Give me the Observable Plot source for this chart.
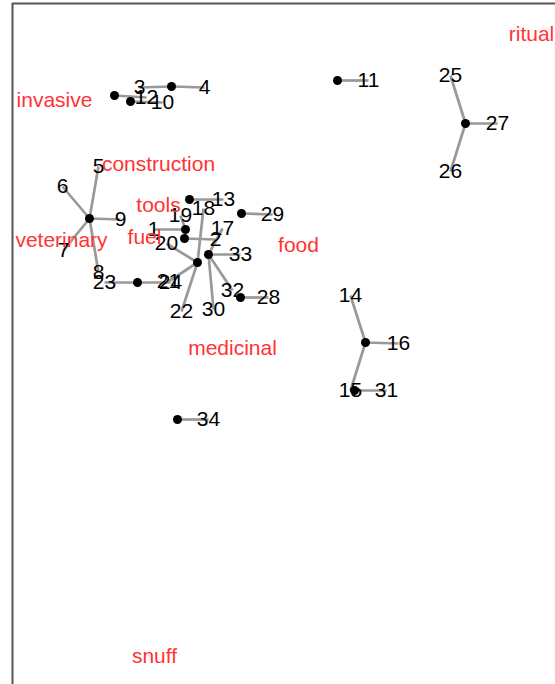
<!DOCTYPE html>
<html>
<head>
<meta charset="utf-8">
<script src="https://cdn.jsdelivr.net/npm/d3@7"></script>
<script src="https://cdn.jsdelivr.net/npm/@observablehq/plot@0.6"></script>
<style>
  html, body { margin: 0; padding: 0; background: #fff; }
  #chart svg { display: block; }
</style>
</head>
<body>
<div id="chart"></div>
<script>
// Group centroids (ordination scores)
const centroidNames = ["a","b","c","g11","g27","g9","g13","g1","g20","H","g23","g33","g28","g29","g16","g15","g34"];
const centroidX = [-0.86,-0.70,-0.29, 1.37, 2.65,-1.11,-0.11,-0.15,-0.16,-0.03,-0.63, 0.08, 0.40, 0.41, 1.65, 1.54,-0.23];
const centroidY = [ 2.05, 1.99, 2.14, 2.20, 1.77, 0.82, 1.01, 0.71, 0.62, 0.38, 0.18, 0.46, 0.03, 0.87,-0.42,-0.90,-1.19];

// Sites
const siteLabels = ["1","19","2","3","4","12","10","11","25","26","27","5","6","9","7","8","13","29","18","20","21","22","24","23","17","33","30","32","28","14","16","15","31","34"];
const siteX = [-0.47,-0.20, 0.15,-0.61, 0.04,-0.54,-0.38, 1.68, 2.50, 2.50, 2.97,-1.02,-1.38,-0.80,-1.37,-1.02, 0.23, 0.72, 0.03,-0.34,-0.32,-0.19,-0.30,-0.96, 0.22, 0.40, 0.13, 0.32, 0.68, 1.50, 1.98, 1.50, 1.86, 0.08];
const siteY = [ 0.71, 0.85, 0.61, 2.13, 2.13, 2.03, 1.98, 2.20, 2.25, 1.29, 1.77, 1.34, 1.14, 0.81, 0.50, 0.28, 1.01, 0.86, 0.92, 0.57, 0.19,-0.11, 0.18, 0.18, 0.72, 0.46,-0.09, 0.10, 0.03, 0.05,-0.43,-0.90,-0.90,-1.19];
const siteGroup = ["g1","g1","g20","c","c","a","b","g11","g27","g27","g27","g9","g9","g9","g9","g9","g13","g29","H","H","H","H","g23","g23","g33","g33","g33","g33","g28","g16","g16","g16","g15","g34"];

// Use categories
const useLabels = ["ritual","invasive","construction","tools","veterinary","fuel","food","medicinal","snuff"];
const useX = [3.31,-1.46,-0.42,-0.42,-1.39,-0.56, 0.98, 0.32,-0.46];
const useY = [2.66, 2.00, 1.36, 0.95, 0.60, 0.63, 0.55,-0.48,-3.56];

const centroids = centroidNames.map((n, i) => ({name: n, x: centroidX[i], y: centroidY[i]}));
const cIndex = new Map(centroidNames.map((n, i) => [n, i]));
const sites = siteLabels.map((l, i) => ({
  label: l, x: siteX[i], y: siteY[i],
  cx: centroidX[cIndex.get(siteGroup[i])], cy: centroidY[cIndex.get(siteGroup[i])]
}));
const uses = useLabels.map((l, i) => ({label: l, x: useX[i], y: useY[i]}));

const font = "Liberation Sans, Arial, Helvetica, sans-serif";

const plot = Plot.plot({
  width: 555,
  height: 684,
  margin: 0,
  x: {domain: [-2, 3.55], axis: null},
  y: {domain: [-3.84, 3.0], axis: null},
  style: {fontFamily: font, background: "#fff"},
  marks: [
    Plot.ruleX([-1.88], {y1: -4, y2: 2.97, stroke: "#555", strokeWidth: 2}),
    Plot.ruleY([2.97], {x1: -1.88, x2: 3.6, stroke: "#555", strokeWidth: 2}),
    Plot.link(sites, {x1: "cx", y1: "cy", x2: "x", y2: "y", stroke: "#999", strokeWidth: 2.7}),
    Plot.text(sites, {x: "x", y: "y", text: "label", fill: "#000", fontSize: 21, textAnchor: "middle", lineAnchor: "middle"}),
    Plot.dot(centroids, {x: "x", y: "y", r: 4.5, fill: "#000", stroke: "none"}),
    Plot.text(uses, {x: "x", y: "y", text: "label", fill: "#ff3333", fontSize: 21, textAnchor: "middle", lineAnchor: "middle"})
  ]
});
document.getElementById("chart").append(plot);
</script>
</body>
</html>
